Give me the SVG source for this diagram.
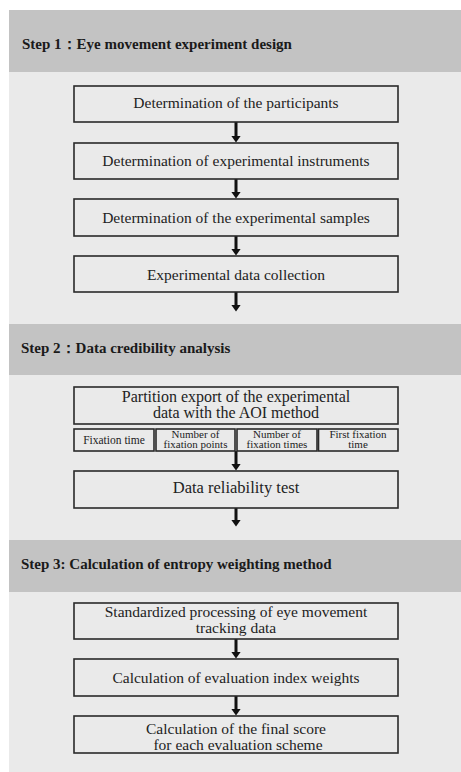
<svg xmlns="http://www.w3.org/2000/svg" width="461" height="772" viewBox="0 0 461 772">
<style>
.band{fill:#c3c3c3}
.panel{fill:#eaeaea}
.box{fill:none;stroke:#2a2a2a;stroke-width:1.6}
.h{font-family:"Liberation Serif","Times New Roman",serif;font-weight:bold;font-size:15px;fill:#1a1a1a}
.t{font-family:"Liberation Serif","Times New Roman",serif;font-size:15.5px;fill:#222;text-anchor:middle}
.s{font-family:"Liberation Serif","Times New Roman",serif;font-size:11px;fill:#222;text-anchor:middle}
.c{stroke:#111;stroke-width:3;fill:none}
</style>
<defs>
<marker id="ah" markerUnits="userSpaceOnUse" markerWidth="7" markerHeight="10" viewBox="0 0 7 10" refX="0.5" refY="5" orient="auto">
<path d="M0,0 L7,5 L0,10 z" fill="#111"/>
</marker>
</defs>
<rect width="461" height="772" fill="#ffffff"/>
<g id="step1">
<rect class="band" x="9" y="10" width="452" height="62"/>
<rect class="panel" x="9" y="72" width="452" height="252"/>
<text class="h" x="22" y="49">Step 1：Eye movement experiment design</text>
</g>
<g id="step2">
<rect class="band" x="9" y="324" width="452" height="51"/>
<rect class="panel" x="9" y="375" width="452" height="165"/>
<text class="h" x="21" y="353">Step 2：Data credibility analysis</text>
</g>
<g id="step3">
<rect class="band" x="9" y="540" width="452" height="52"/>
<rect class="panel" x="9" y="592" width="452" height="180"/>
<text class="h" x="21" y="569">Step 3: Calculation of entropy weighting method</text>
</g>
<g id="connectors">
<line class="c" x1="236" y1="122" x2="236" y2="136" marker-end="url(#ah)"/>
<line class="c" x1="236" y1="179" x2="236" y2="192" marker-end="url(#ah)"/>
<line class="c" x1="236" y1="236" x2="236" y2="249" marker-end="url(#ah)"/>
<line class="c" x1="236" y1="292" x2="236" y2="305" marker-end="url(#ah)"/>
<line class="c" x1="236" y1="451" x2="236" y2="464" marker-end="url(#ah)"/>
<line class="c" x1="236" y1="508" x2="236" y2="520" marker-end="url(#ah)"/>
<line class="c" x1="236" y1="639" x2="236" y2="652" marker-end="url(#ah)"/>
<line class="c" x1="236" y1="696" x2="236" y2="709" marker-end="url(#ah)"/>
</g>
<g id="n1"><rect class="box" x="74" y="86" width="324" height="36"/><text class="t" x="236" y="108">Determination of the participants</text></g>
<g id="n2"><rect class="box" x="74" y="143" width="324" height="36"/><text class="t" x="236" y="166">Determination of experimental instruments</text></g>
<g id="n3"><rect class="box" x="74" y="199" width="324" height="37"/><text class="t" x="236" y="223">Determination of the experimental samples</text></g>
<g id="n4"><rect class="box" x="74" y="256" width="324" height="36"/><text class="t" x="236" y="280">Experimental data collection</text></g>
<g id="n5"><rect class="box" x="74" y="387" width="324" height="37"/><text class="t" x="236" y="402" style="font-size:16px">Partition export of the experimental</text><text class="t" x="236" y="418" style="font-size:16px">data with the AOI method</text></g>
<g id="n5a"><rect class="box" x="74" y="429" width="80" height="22"/><text class="s" x="114" y="444" style="font-size:11.5px">Fixation time</text></g>
<g id="n5b"><rect class="box" x="156" y="429" width="79" height="22"/><text class="s" x="195.5" y="437.5">Number of</text><text class="s" x="195.5" y="448">fixation points</text></g>
<g id="n5c"><rect class="box" x="237" y="429" width="80" height="22"/><text class="s" x="277" y="437.5">Number of</text><text class="s" x="277" y="448">fixation times</text></g>
<g id="n5d"><rect class="box" x="318.5" y="429" width="79.5" height="22"/><text class="s" x="358" y="437.5">First fixation</text><text class="s" x="358" y="448">time</text></g>
<g id="n6"><rect class="box" x="74" y="471" width="324" height="37"/><text class="t" x="236" y="493" style="font-size:16.5px">Data reliability test</text></g>
<g id="n7"><rect class="box" x="74" y="603" width="324" height="36"/><text class="t" x="236" y="617">Standardized processing of eye movement</text><text class="t" x="236" y="633">tracking data</text></g>
<g id="n8"><rect class="box" x="74" y="659" width="324" height="37"/><text class="t" x="236" y="683">Calculation of evaluation index weights</text></g>
<g id="n9"><rect class="box" x="74" y="716" width="324" height="37"/><text class="t" x="236" y="734">Calculation of the final score</text><text class="t" x="238" y="750">for each evaluation scheme</text></g>
</svg>
